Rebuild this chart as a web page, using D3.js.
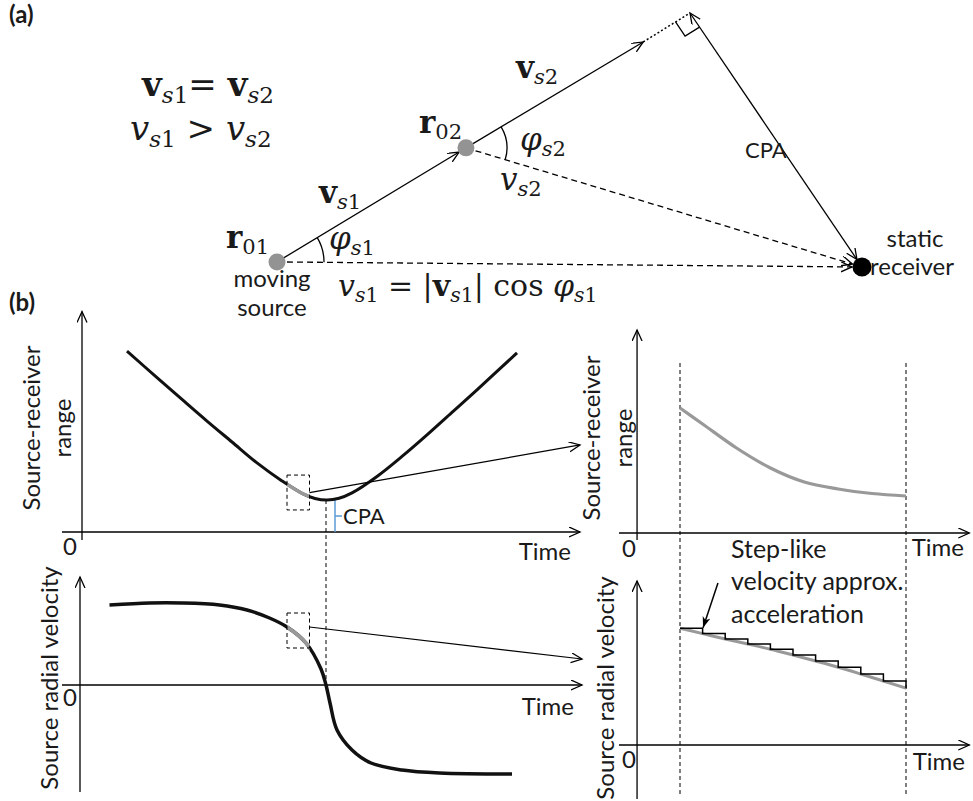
<!DOCTYPE html>
<html>
<head>
<meta charset="utf-8">
<script src="https://cdn.jsdelivr.net/npm/d3@7"></script>
<style>body{margin:0;background:#fff}</style>
</head>
<body>
<svg id="fig"></svg>
<script>
// ── data ──────────────────────────────────────────────
// panel (a): scene positions (receiver at origin, arbitrary units)
const scenePoints = ['r01', 'r02', 'heading', 'cpaFoot', 'receiver'];
const sceneX = [0, 32.3, 62.6, 70.6, 100];
const sceneY = [2.0, 46.9, 88.6, 100, 0];

// panel (b) left top: source-receiver range over time
const rangeTime = [9, 15, 20, 25, 30, 35, 40, 44, 46.6, 49, 51.4, 54, 59, 64, 69, 74, 79, 87];
const rangeVal  = [80.4, 68.6, 58.9, 49.3, 40, 30.7, 22.7, 17.2, 14.9, 14.2, 15, 17.4, 24.7, 33.6, 43.2, 53.2, 63.2, 79.6];

// panel (b) left bottom: radial velocity over time
const velTime = [5.5, 13.5, 20, 27.5, 33, 37.5, 41, 44.8, 47.8, 48.8, 49.6, 51, 54, 57.8, 64, 71.5, 86];
const velVal  = [80, 82, 82, 80, 75, 67, 58, 42, 16, 0, -18, -45, -65, -78, -85, -88, -89];

const cpaTime = 48.8;
const zoomWin = [41, 45.5];          // time window of the dashed boxes
const boxRange = [9.8, 25.3];        // range extent of upper box
const boxVel = [37, 72];             // velocity extent of lower box

// panel (b) right: zoomed window
const zoomTime  = [0, 1, 2.5, 4, 5.5, 7, 8.5, 10];
const zoomRange = [62.5, 54.5, 42.5, 32.5, 25.5, 22, 19.75, 18.5];
const stepTime  = [0, 1, 2, 3, 4, 5, 6, 7, 8, 9, 10];
const stepVel   = [58.4, 55.7, 53, 50.5, 47.9, 45, 42, 38.9, 35.5, 32, 28.4];

// ── setup ─────────────────────────────────────────────
const W = 973, H = 801;
const SANS = 'Lato, "Open Sans", sans-serif';
const SERIF = '"DejaVu Serif", serif';
const GRAY = '#999';

const svg = d3.select('#fig').attr('width', W).attr('height', H);
svg.append('rect').attr('width', W).attr('height', H).attr('fill', '#fff');

const defs = svg.append('defs');
defs.append('marker').attr('id', 'head')
  .attr('markerUnits', 'userSpaceOnUse').attr('markerWidth', 14).attr('markerHeight', 12)
  .attr('refX', 11).attr('refY', 5).attr('orient', 'auto-start-reverse')
  .append('path').attr('d', 'M0,0 L11,5 L0,10')
  .attr('fill', 'none').attr('stroke', '#000').attr('stroke-width', 1.3);
defs.append('marker').attr('id', 'headFill')
  .attr('markerUnits', 'userSpaceOnUse').attr('markerWidth', 14).attr('markerHeight', 10)
  .attr('refX', 11).attr('refY', 4).attr('orient', 'auto')
  .append('path').attr('d', 'M0,0 L11,4 L0,8 L3,4 Z').attr('fill', '#000');

// ── helpers ───────────────────────────────────────────
function seg(g, a, b, opt = {}) {
  const l = g.append('line')
    .attr('x1', a[0]).attr('y1', a[1]).attr('x2', b[0]).attr('y2', b[1])
    .attr('stroke', opt.color || '#000').attr('stroke-width', opt.width || 1.3);
  if (opt.dash) l.attr('stroke-dasharray', opt.dash);
  if (opt.end) l.attr('marker-end', `url(#${opt.end})`);
  if (opt.start) l.attr('marker-start', `url(#${opt.start})`);
  return l;
}
function shorten(a, b, d) {
  const dx = b[0] - a[0], dy = b[1] - a[1], L = Math.hypot(dx, dy);
  return [b[0] - dx / L * d, b[1] - dy / L * d];
}
function label(g, x, y, txt, size, opt = {}) {
  return g.append('text').attr('x', x).attr('y', y)
    .attr('font-family', SANS).attr('font-size', size)
    .attr('font-weight', opt.bold ? 700 : 400)
    .attr('text-anchor', opt.anchor || 'start').attr('fill', '#1a1a1a').text(txt);
}
function vlabel(g, x, y, txt, size) {
  g.append('text').attr('transform', `translate(${x},${y}) rotate(-90)`)
    .attr('dy', '0.35em').attr('text-anchor', 'middle')
    .attr('font-family', SANS).attr('font-size', size).attr('fill', '#1a1a1a').text(txt);
}
// parts: [text, flags] ; flags: b=bold, i=italic, s=subscript
function math(g, x, y, size, parts) {
  const t = g.append('text').attr('x', x).attr('y', y)
    .attr('font-family', SERIF).attr('fill', '#1a1a1a');
  let inSub = false;
  for (const [txt, f = ''] of parts) {
    const sub = f.includes('s');
    const sp = t.append('tspan').text(txt)
      .attr('font-size', sub ? size * 0.68 : size)
      .attr('font-weight', f.includes('b') ? 700 : 400)
      .attr('font-style', f.includes('i') ? 'italic' : 'normal');
    if (sub !== inSub) sp.attr('dy', (sub ? 1 : -1) * size * 0.2);
    inSub = sub;
  }
  return t;
}
function angleArc(g, c, r, a0, a1) {
  g.append('path')
    .attr('d', `M${c[0] + r * Math.cos(a0)},${c[1] + r * Math.sin(a0)} A${r},${r} 0 0 1 ${c[0] + r * Math.cos(a1)},${c[1] + r * Math.sin(a1)}`)
    .attr('fill', 'none').attr('stroke', '#000').attr('stroke-width', 1.3);
}
const ang = (a, b) => Math.atan2(b[1] - a[1], b[0] - a[0]);

// ── panel (a) ─────────────────────────────────────────
const ga = svg.append('g');
const sx = d3.scaleLinear([0, 100], [277, 862]);
const sy = d3.scaleLinear([0, 100], [267, 13]);
const P = {};
scenePoints.forEach((k, i) => { P[k] = [sx(sceneX[i]), sy(sceneY[i])]; });

seg(ga, P.r01, shorten(P.r01, P.r02, 8), { end: 'head' });
seg(ga, P.r02, P.heading, { end: 'head' });
seg(ga, P.heading, P.cpaFoot, { dash: '2,2.2', width: 1.5 });
seg(ga, P.cpaFoot, shorten(P.cpaFoot, P.receiver, 9), { start: 'head', end: 'head' });
seg(ga, P.r02, shorten(P.r02, P.receiver, 10), { dash: '6,4', end: 'head' });
seg(ga, P.r01, shorten(P.r01, P.receiver, 10), { dash: '6,4', end: 'head' });

// right-angle mark at CPA foot
{
  const s = 17;
  const a1 = ang(P.cpaFoot, P.heading), a2 = ang(P.cpaFoot, P.receiver);
  const p1 = [P.cpaFoot[0] + s * Math.cos(a1), P.cpaFoot[1] + s * Math.sin(a1)];
  const p3 = [P.cpaFoot[0] + s * Math.cos(a2), P.cpaFoot[1] + s * Math.sin(a2)];
  const p2 = [p1[0] + p3[0] - P.cpaFoot[0], p1[1] + p3[1] - P.cpaFoot[1]];
  ga.append('path').attr('d', `M${p1} L${p2} L${p3}`)
    .attr('fill', 'none').attr('stroke', '#000').attr('stroke-width', 1.3);
}

angleArc(ga, P.r01, 47, ang(P.r01, P.r02), ang(P.r01, P.receiver));
angleArc(ga, P.r02, 41, ang(P.r02, P.heading), ang(P.r02, P.receiver));

ga.selectAll('circle.src').data([P.r01, P.r02]).join('circle')
  .attr('cx', d => d[0]).attr('cy', d => d[1]).attr('r', 8.5).attr('fill', '#939393');
ga.append('circle').attr('cx', P.receiver[0]).attr('cy', P.receiver[1]).attr('r', 9.5).attr('fill', '#000');

label(ga, 9, 23, '(a)', 24, { bold: true });
math(ga, 142, 96, 34, [['v', 'b'], ['s', 'is'], ['1', 's'], ['= '], ['v', 'b'], ['s', 'is'], ['2', 's']]);
math(ga, 130, 140, 34, [['v', 'i'], ['s', 'is'], ['1', 's'], [' > '], ['v', 'i'], ['s', 'is'], ['2', 's']]);

math(ga, 226, 248, 31, [['r', 'b'], ['01', 's']]);
math(ga, 419, 133, 31, [['r', 'b'], ['02', 's']]);
math(ga, 319, 203, 31, [['v', 'b'], ['s', 'is'], ['1', 's']]);
math(ga, 516, 78, 31, [['v', 'b'], ['s', 'is'], ['2', 's']]);
math(ga, 329, 249, 31, [['φ', 'i'], ['s', 'is'], ['1', 's']]);
math(ga, 520, 150, 31, [['φ', 'i'], ['s', 'is'], ['2', 's']]);
math(ga, 500, 190, 31, [['v', 'i'], ['s', 'is'], ['2', 's']]);
math(ga, 338, 296, 30, [['v', 'i'], ['s', 'is'], ['1', 's'], [' = |'], ['v', 'b'], ['s', 'is'], ['1', 's'], ['| cos '], ['φ', 'i'], ['s', 'is'], ['1', 's']]);

label(ga, 272, 287, 'moving', 24, { anchor: 'middle' });
label(ga, 272, 316, 'source', 24, { anchor: 'middle' });
label(ga, 915, 247, 'static', 24, { anchor: 'middle' });
label(ga, 912, 275, 'receiver', 24, { anchor: 'middle' });
label(ga, 745, 158, 'CPA', 22);

// ── panel (b) ─────────────────────────────────────────
const gb = svg.append('g');
label(gb, 9, 311, '(b)', 24, { bold: true });

const xL = d3.scaleLinear([0, 100], [82, 582]);
const yTL = d3.scaleLinear([0, 100], [532, 307]);
const yBL = d3.scaleLinear([-100, 100], [785, 585]);
const xR = d3.scaleLinear([0, 10], [680, 906]);
const yTR = d3.scaleLinear([0, 100], [533, 333]);
const yBR = d3.scaleLinear([0, 100], [745, 545]);

// axes (arrows)
seg(gb, [xL(-4), yTL(0)], [xL(99.6), yTL(0)], { end: 'head' });
seg(gb, [xL(0), yTL(-3.5)], [xL(0), yTL(98)], { end: 'head' });
seg(gb, [xL(-4), yBL(0)], [xL(100), yBL(0)], { end: 'head' });
seg(gb, [xL(-0.4), yBL(-107)], [xL(-0.4), yBL(108)], { end: 'head' });
seg(gb, [xR(-2.7), yTR(0)], [xR(12.8), yTR(0)], { end: 'head' });
seg(gb, [xR(-1.9), yTR(-3.5)], [xR(-1.9), yTR(101.5)], { end: 'head' });
seg(gb, [xR(-2.7), yBR(0)], [xR(12.8), yBR(0)], { end: 'head' });
seg(gb, [xR(-1.9), yBR(-27)], [xR(-1.9), yBR(82)], { end: 'head' });

// axis texts
label(gb, 70, 555, '0', 24, { anchor: 'middle' });
label(gb, 571, 560, 'Time', 24, { anchor: 'end' });
label(gb, 70, 706, '0', 24, { anchor: 'middle' });
label(gb, 574, 715, 'Time', 24, { anchor: 'end' });
label(gb, 629, 557, '0', 24, { anchor: 'middle' });
label(gb, 964, 556, 'Time', 24, { anchor: 'end' });
label(gb, 629, 768, '0', 24, { anchor: 'middle' });
label(gb, 965, 770, 'Time', 24, { anchor: 'end' });

vlabel(gb, 32, 428, 'Source-receiver', 24);
vlabel(gb, 63, 428, 'range', 24);
vlabel(gb, 592, 438, 'Source-receiver', 24);
vlabel(gb, 624, 438, 'range', 24);
vlabel(gb, 50, 678, 'Source radial velocity', 24);
vlabel(gb, 606, 688, 'Source radial velocity', 24);

// CPA marker lines
seg(gb, [xL(cpaTime), yTL(d3.min(rangeVal))], [xL(cpaTime), yBL(0)], { dash: '4,3', width: 1 });
{
  const bx = xL(cpaTime + 1.8), top = yTL(d3.min(rangeVal)), bot = yTL(0);
  const blue = { color: '#5b9bd5', width: 1.5 };
  seg(gb, [bx, top], [bx, bot], blue);
  seg(gb, [xL(cpaTime - 0.4), top], [bx, top], blue);
  seg(gb, [bx, (top + bot) / 2], [bx + 7, (top + bot) / 2], blue);
  label(gb, bx + 8, (top + bot) / 2 + 8, 'CPA', 22);
}

// range curve
const lineTL = d3.line().x(d => xL(d[0])).y(d => yTL(d[1])).curve(d3.curveCatmullRom);
const rangePts = d3.zip(rangeTime, rangeVal);
gb.append('path').attr('d', lineTL(rangePts)).attr('fill', 'none').attr('stroke', '#111').attr('stroke-width', 3);

// velocity curve
const lineBL = d3.line().x(d => xL(d[0])).y(d => yBL(d[1])).curve(d3.curveCatmullRom);
const velPts = d3.zip(velTime, velVal);
gb.append('path').attr('d', lineBL(velPts)).attr('fill', 'none').attr('stroke', '#111').attr('stroke-width', 3.5);

// gray window overlays
defs.append('clipPath').attr('id', 'win').append('rect')
  .attr('x', xL(zoomWin[0])).attr('width', xL(zoomWin[1]) - xL(zoomWin[0]))
  .attr('y', 0).attr('height', H);
gb.append('path').attr('d', lineTL(rangePts)).attr('clip-path', 'url(#win)')
  .attr('fill', 'none').attr('stroke', GRAY).attr('stroke-width', 3.2);
gb.append('path').attr('d', lineBL(velPts)).attr('clip-path', 'url(#win)')
  .attr('fill', 'none').attr('stroke', GRAY).attr('stroke-width', 3.6);

// dashed boxes + pointers
gb.append('rect').attr('x', xL(zoomWin[0])).attr('y', yTL(boxRange[1]))
  .attr('width', xL(zoomWin[1]) - xL(zoomWin[0])).attr('height', yTL(boxRange[0]) - yTL(boxRange[1]))
  .attr('fill', 'none').attr('stroke', '#000').attr('stroke-width', 1).attr('stroke-dasharray', '4,3');
gb.append('rect').attr('x', xL(zoomWin[0])).attr('y', yBL(boxVel[1]))
  .attr('width', xL(zoomWin[1]) - xL(zoomWin[0])).attr('height', yBL(boxVel[0]) - yBL(boxVel[1]))
  .attr('fill', 'none').attr('stroke', '#000').attr('stroke-width', 1).attr('stroke-dasharray', '4,3');
seg(gb, [xL(zoomWin[1]), yTL(17.5)], [xL(99.6), yTL(38.7)], { end: 'head', width: 1.2 });
seg(gb, [xL(zoomWin[1]), yBL(58)], [xL(100), yBL(26)], { end: 'head', width: 1.2 });

// window bounds on the right
for (const t of [stepTime[0], stepTime[stepTime.length - 1]]) {
  seg(gb, [xR(t), yTR(85)], [xR(t), yBR(-25)], { dash: '4,3', width: 1 });
}

// zoomed range
gb.append('path')
  .attr('d', d3.line().x(d => xR(d[0])).y(d => yTR(d[1])).curve(d3.curveMonotoneX)(d3.zip(zoomTime, zoomRange)))
  .attr('fill', 'none').attr('stroke', GRAY).attr('stroke-width', 3.2);

// zoomed velocity: smooth + step approximation
const stepPts = d3.zip(stepTime, stepVel);
gb.append('path')
  .attr('d', d3.line().x(d => xR(d[0])).y(d => yBR(d[1])).curve(d3.curveMonotoneX)(stepPts))
  .attr('fill', 'none').attr('stroke', GRAY).attr('stroke-width', 3);
gb.append('path')
  .attr('d', d3.line().x(d => xR(d[0])).y(d => yBR(d[1])).curve(d3.curveStepAfter)(stepPts))
  .attr('fill', 'none').attr('stroke', '#000').attr('stroke-width', 1.5);

label(gb, 731, 558, 'Step-like', 25);
label(gb, 731, 590, 'velocity approx.', 25);
label(gb, 731, 623, 'acceleration', 25);
seg(gb, [xR(1.68), yBR(81)], [xR(1.02), yBR(58.6)], { end: 'headFill', width: 1.5 });
</script>
</body>
</html>
